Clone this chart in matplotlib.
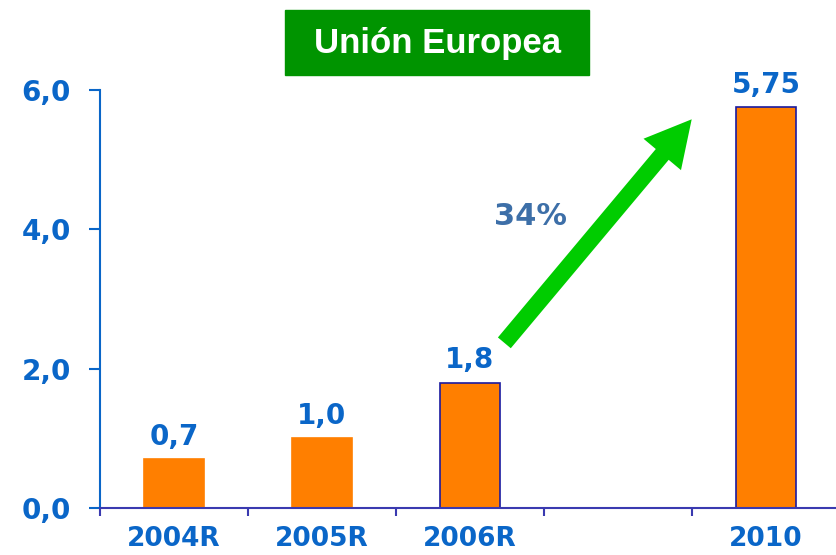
import numpy as np
import matplotlib
matplotlib.use("Agg")
import matplotlib.pyplot as plt
from matplotlib.patches import Rectangle

# data
categories = ["2004R", "2005R", "2006R", "", "2010"]
values = [0.7, 1.0, 1.8, np.nan, 5.75]
value_labels = ["0,7", "1,0", "1,8", "", "5,75"]
edged = [False, False, True, False, True]
y_ticks = [0, 2, 4, 6]
y_tick_labels = ["0,0", "2,0", "4,0", "6,0"]
growth_label = "34%"
title = "Unión Europea"

BLUE = "#0a66c8"
ORANGE = "#ff7f00"

fig = plt.figure(figsize=(8.36, 5.55), dpi=100)
ax = fig.add_axes([100 / 836, 47 / 555, 740 / 836, 418 / 555])

x = np.arange(len(categories))
for i, v in enumerate(values):
    if np.isnan(v):
        continue
    ax.bar(x[i], v, width=0.4, color=ORANGE,
           edgecolor="#1a1aa0" if edged[i] else ORANGE, linewidth=1.2, zorder=2)
    ax.text(x[i], v + 0.12, value_labels[i], ha="center", va="bottom",
            fontsize=20, fontweight="bold", color=BLUE)

ax.set_xlim(-0.5, len(categories) - 0.5)
ax.set_ylim(0, 6)

# ticks on slot boundaries, labels at slot centres
ax.set_xticks(np.arange(len(categories) + 1) - 0.5)
ax.set_xticklabels([])
ax.set_xticks(x, minor=True)
ax.set_xticklabels(categories, minor=True)
ax.tick_params(axis="x", which="major", length=6, width=1.5, color="#3a3ab0", direction="out")
ax.tick_params(axis="x", which="minor", length=0, pad=13, labelsize=19, labelcolor=BLUE)
for lab in ax.get_xticklabels(minor=True):
    lab.set_fontweight("bold")

ax.set_yticks(y_ticks)
ax.set_yticklabels(y_tick_labels)
ax.tick_params(axis="y", length=8, width=1.5, color=BLUE, pad=13,
               labelsize=20, labelcolor=BLUE)
for lab in ax.get_yticklabels():
    lab.set_fontweight("bold")

for s in ["top", "right"]:
    ax.spines[s].set_visible(False)
ax.spines["left"].set_color(BLUE)
ax.spines["left"].set_linewidth(1.5)
ax.spines["bottom"].set_color("#3a3ab0")
ax.spines["bottom"].set_linewidth(1.5)

# growth arrow from 2006R toward 2010
ax.annotate("", xy=(x[4] - 0.49, values[4] - 0.14), xytext=(x[2] + 0.22, values[2] + 0.54),
            arrowprops=dict(arrowstyle="simple,head_length=1.5,head_width=1.6,tail_width=0.55",
                            color="#00cc00", lw=0, mutation_scale=22), zorder=3)
ax.text(2.41, 4.18, growth_label, ha="center", va="center", fontsize=22,
        fontweight="bold", color="#3d6fa8")

# title box
fig.patches.append(Rectangle((285 / 836, 1 - 75 / 555), 304 / 836, 65 / 555,
                             transform=fig.transFigure, color="#009400", zorder=0))
fig.text(437 / 836, 1 - 43 / 555, title, ha="center", va="center", color="white",
         fontsize=25, fontweight="bold", family="Liberation Sans")

fig.savefig("out.png", dpi=100)
